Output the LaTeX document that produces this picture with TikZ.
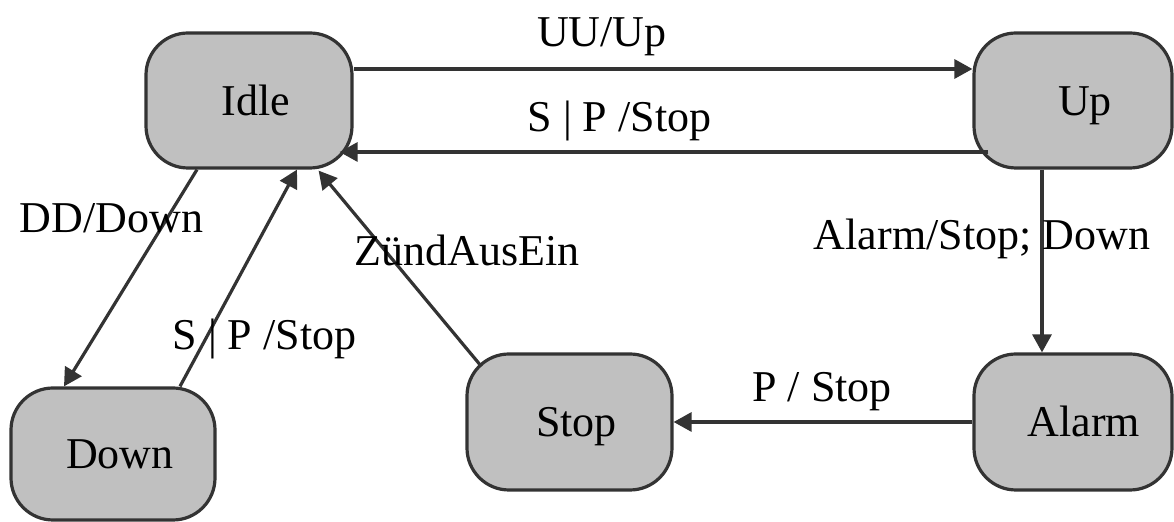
\documentclass[tikz,border=0pt]{standalone}
\usepackage{fontspec}
\setmainfont{Liberation Serif}
\usetikzlibrary{arrows.meta,calc}
\definecolor{boxfill}{HTML}{C0C0C0}
\definecolor{edgecol}{HTML}{333333}
\begin{document}
\begin{tikzpicture}[x=0.5pt,y=-0.5pt,
  state/.style={draw=edgecol, fill=boxfill, line width=1.6pt, rounded corners=21pt, inner sep=0pt, text height=14.6pt, text depth=0pt, font=\fontsize{22}{26}\selectfont},
  conn/.style={draw=edgecol, line width=1.6pt, -{Triangle[length=9pt,width=9.5pt]}},
  lbl/.style={anchor=base, inner sep=0pt, font=\fontsize{22}{26}\selectfont}]
\useasboundingbox (0,0) rectangle (1174,522);
\node[state, minimum width=103pt, minimum height=67.5pt] (idle) at (249,100.5) {\hspace*{7pt}Idle};
\node[state, minimum width=99pt, minimum height=67.5pt] (up) at (1073,100.5) {\hspace*{12pt}Up};
\node[state, minimum width=102pt, minimum height=66pt] (down) at (113,454) {\hspace*{7pt}Down};
\node[state, minimum width=102.5pt, minimum height=68pt] (stop) at (569.5,422) {\hspace*{7pt}Stop};
\node[state, minimum width=99pt, minimum height=68pt] (alarm) at (1073,422) {\hspace*{11pt}Alarm};

\draw[conn] ($(idle.east)+(0,-31.5)$) -- ($(up.west)+(0,-31.5)$);
\draw[conn] ($(up.west)+(16,51.5)$) -- ($(idle.east)+(-14,51.5)$);
\draw[conn] ($(up.south)+(-31,0)$) -- ($(alarm.north)+(-31,0)$);
\draw[conn] ($(idle.south)+(-52,0)$) -- ($(down.north)+(-49,0)$);
\draw[conn] ($(down.north)+(67,0)$) -- ($(idle.south)+(48,0)$);
\draw[conn] ($(stop.north west)+(16,14)$) -- ($(idle.south east)+(-35,1)$);
\draw[conn] (alarm.west) -- (stop.east);

\node[lbl] (l1) at (602,47) {UU/Up};
\node[lbl] (l2) at (619.5,132) {S | P /Stop};
\node[lbl] (l3) at (982,250) {Alarm/Stop; Down};
\node[lbl] (l4) at (111.5,233) {DD/Down};
\node[lbl] (l5) at (264.5,350) {S | P /Stop};
\node[lbl] (l6) at (467,266) {ZündAusEin};
\node[lbl] (l7) at (822,402) {P / Stop};
\end{tikzpicture}
\end{document}
